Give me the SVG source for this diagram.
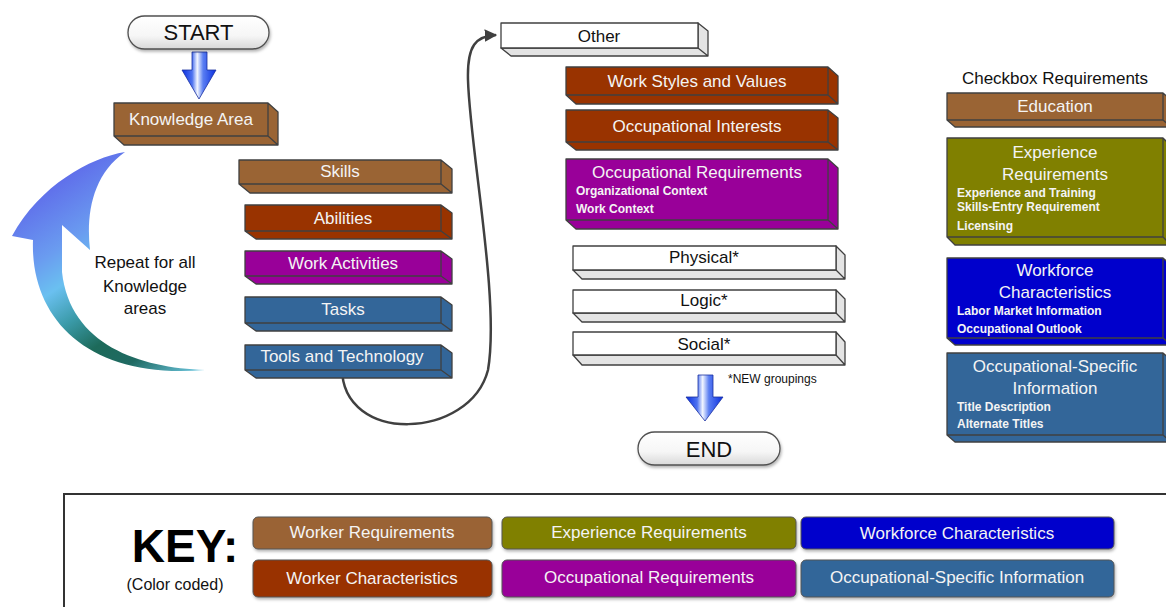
<svg xmlns="http://www.w3.org/2000/svg" width="1166" height="607" viewBox="0 0 1166 607">
<style>
text{font-family:"Liberation Sans",Arial,sans-serif;}
.bx{stroke:#404040;stroke-width:1.3;stroke-linejoin:round;}
.br{fill:#9a6434;}
.ru{fill:#993300;}
.pu{fill:#990099;}
.st{fill:#336699;}
.ol{fill:#808000;}
.bl{fill:#0000cc;}
.wh{fill:#ffffff;}
.whs{fill:#e4e4e4;}
.t{font-size:17px;fill:#f4f4f4;text-anchor:middle;}
.tk{font-size:17px;fill:#111;text-anchor:middle;}
.sub{font-size:12px;font-weight:bold;fill:#f4f4f4;}
.key{stroke:#555;stroke-width:1;}
.kt{font-size:17px;fill:#f4f4f4;text-anchor:middle;}
.conn{fill:none;stroke:#404040;stroke-width:2.5;}
</style>
<defs>
<marker id="ah" viewBox="0 0 10 10" refX="9" refY="5" markerWidth="5" markerHeight="5" orient="auto" markerUnits="strokeWidth">
<path d="M0 0L10 5L0 10z" fill="#404040"/>
</marker>
<linearGradient id="pill" x1="0" y1="0" x2="0" y2="1">
<stop offset="0" stop-color="#ffffff"/>
<stop offset="0.6" stop-color="#f6f6f6"/>
<stop offset="1" stop-color="#d8d8d8"/>
</linearGradient>
<linearGradient id="barrow" x1="0" y1="0" x2="1" y2="0">
<stop offset="0" stop-color="#0a2ee0"/>
<stop offset="0.3" stop-color="#4d72f0"/>
<stop offset="0.45" stop-color="#f2f6ff"/>
<stop offset="0.62" stop-color="#5a7ef2"/>
<stop offset="1" stop-color="#0a2ee0"/>
</linearGradient>
<linearGradient id="crescent" gradientUnits="userSpaceOnUse" x1="60" y1="150" x2="210" y2="375">
<stop offset="0" stop-color="#5b5be8"/>
<stop offset="0.3" stop-color="#6a9cf0"/>
<stop offset="0.42" stop-color="#6ac0f0"/>
<stop offset="0.55" stop-color="#3a9aa8"/>
<stop offset="0.68" stop-color="#1d6a5a"/>
<stop offset="0.8" stop-color="#1f6a62"/>
<stop offset="1" stop-color="#7ad8f8"/>
</linearGradient>
<filter id="sh" x="-10%" y="-20%" width="120%" height="150%">
<feDropShadow dx="1" dy="2" stdDeviation="1.5" flood-color="#000" flood-opacity="0.3"/>
</filter>
</defs>

<!-- connectors -->
<g id="connectors">
<path class="conn" d="M342 368 C342 445 470 440 488 370 C500 300 470 150 468 80 C467 45 476 36 496 35" marker-end="url(#ah)"/>
<path id="arrow-start" d="M192 52H207V70H216L199 99L182 70H192Z" fill="url(#barrow)" stroke="#1a30a0" stroke-width="0.8"/>
<path id="arrow-end" d="M698 375H713V397H723L705 421L686 397H698Z" fill="url(#barrow)" stroke="#1a30a0" stroke-width="0.8"/>
<path id="repeat-arrow" d="M125 152 C90 158 40 185 12 236 L33 240 C30 320 90 380 205 370 C140 368 70 345 62 272 L62 225 L90 250 C86 215 92 175 125 152 Z" fill="url(#crescent)"/>
</g>

<g id="n-start">
<rect x="128" y="16" width="141" height="33" rx="16.5" fill="url(#pill)" stroke="#505050" stroke-width="1.3" filter="url(#sh)"/>
<text x="198.5" y="40" style="font-size:22px;fill:#111;text-anchor:middle">START</text>
</g>

<g id="n-knowledge">
<path class="bx br" d="M114 103h154v33H114z M114 136l10 9h154l-10-9z M268 103l10 9v33l-10-9z"/>
<text class="t" x="191" y="125">Knowledge Area</text>
</g>

<g id="n-repeat">
<text class="tk" x="145" y="268">Repeat for all</text>
<text class="tk" x="145" y="292">Knowledge</text>
<text class="tk" x="145" y="314">areas</text>
</g>

<g id="n-skills">
<path class="bx br" d="M239 160h202v24H239z M239 184l11 9h202l-11-9z M441 160l11 9v24l-11-9z"/>
<text class="t" x="340" y="177">Skills</text>
</g>
<g id="n-abilities">
<path class="bx ru" d="M245 205h196v26H245z M245 231l11 8h196l-11-8z M441 205l11 8v26l-11-8z"/>
<text class="t" x="343" y="224">Abilities</text>
</g>
<g id="n-workact">
<path class="bx pu" d="M245 251h196v25H245z M245 276l11 8h196l-11-8z M441 251l11 8v25l-11-8z"/>
<text class="t" x="343" y="269">Work Activities</text>
</g>
<g id="n-tasks">
<path class="bx st" d="M245 297h196v26H245z M245 323l11 8h196l-11-8z M441 297l11 8v26l-11-8z"/>
<text class="t" x="343" y="315">Tasks</text>
</g>
<g id="n-tools">
<path class="bx st" d="M245 345h196v25H245z M245 370l11 8h196l-11-8z M441 345l11 8v25l-11-8z"/>
<text class="t" x="342" y="362">Tools and Technology</text>
</g>

<g id="n-other">
<path class="bx whs" d="M501 48l10 8h197l-10-8z M698 23l10 8v25l-10-8z"/>
<rect class="bx wh" x="501" y="23" width="197" height="25"/>
<text class="tk" x="599" y="42">Other</text>
</g>
<g id="n-workstyles">
<path class="bx ru" d="M566 67h262v28H566z M566 95l10 9h262l-10-9z M828 67l10 9v28l-10-9z"/>
<text class="t" x="697" y="87">Work Styles and Values</text>
</g>
<g id="n-occint">
<path class="bx ru" d="M566 110h262v32H566z M566 142l10 8h262l-10-8z M828 110l10 8v32l-10-8z"/>
<text class="t" x="697" y="132">Occupational Interests</text>
</g>
<g id="n-occreq">
<path class="bx pu" d="M566 159h262v61H566z M566 220l10 9h262l-10-9z M828 159l10 9v61l-10-9z"/>
<text class="t" x="697" y="178">Occupational Requirements</text>
<text class="sub" x="576" y="195">Organizational Context</text>
<text class="sub" x="576" y="213">Work Context</text>
</g>
<g id="n-physical">
<path class="bx whs" d="M573 270l9 9h263l-9-9z M836 246l9 9v24l-9-9z"/>
<rect class="bx wh" x="573" y="246" width="263" height="24"/>
<text class="tk" x="704" y="263">Physical*</text>
</g>
<g id="n-logic">
<path class="bx whs" d="M573 313l9 9h263l-9-9z M836 290l9 9v23l-9-9z"/>
<rect class="bx wh" x="573" y="290" width="263" height="23"/>
<text class="tk" x="704" y="306">Logic*</text>
</g>
<g id="n-social">
<path class="bx whs" d="M573 355l9 10h263l-9-10z M836 332l9 10v23l-9-10z"/>
<rect class="bx wh" x="573" y="332" width="263" height="23"/>
<text class="tk" x="704" y="350">Social*</text>
</g>
<g id="n-newnote">
<text x="728" y="383" style="font-size:12px;fill:#111">*NEW groupings</text>
</g>

<g id="n-end">
<rect x="638" y="432" width="142" height="33" rx="16.5" fill="url(#pill)" stroke="#505050" stroke-width="1.3" filter="url(#sh)"/>
<text x="709" y="457" style="font-size:22px;fill:#111;text-anchor:middle">END</text>
</g>

<g id="n-checkbox">
<text class="tk" x="1055" y="84">Checkbox Requirements</text>
</g>
<g id="n-education">
<path class="bx br" d="M947 93h216v27H947z M947 120l8 7h216l-8-7z M1163 93l8 7v27l-8-7z"/>
<text class="t" x="1055" y="112">Education</text>
</g>
<g id="n-experience">
<path class="bx ol" d="M947 138h216v99H947z M947 237l8 8h216l-8-8z M1163 138l8 8v99l-8-8z"/>
<text class="t" x="1055" y="158">Experience</text>
<text class="t" x="1055" y="180">Requirements</text>
<text class="sub" x="957" y="197">Experience and Training</text>
<text class="sub" x="957" y="211">Skills-Entry Requirement</text>
<text class="sub" x="957" y="230">Licensing</text>
</g>
<g id="n-workforce">
<path class="bx bl" d="M947 258h216v80H947z M947 338l8 7h216l-8-7z M1163 258l8 7v80l-8-7z"/>
<text class="t" x="1055" y="276">Workforce</text>
<text class="t" x="1055" y="298">Characteristics</text>
<text class="sub" x="957" y="315">Labor Market Information</text>
<text class="sub" x="957" y="333">Occupational Outlook</text>
</g>
<g id="n-occspec">
<path class="bx st" d="M947 353h216v82H947z M947 435l8 7h216l-8-7z M1163 353l8 7v82l-8-7z"/>
<text class="t" x="1055" y="372">Occupational-Specific</text>
<text class="t" x="1055" y="394">Information</text>
<text class="sub" x="957" y="411">Title Description</text>
<text class="sub" x="957" y="428">Alternate Titles</text>
</g>

<g id="n-key">
<rect x="64" y="494" width="1130" height="140" fill="#fff" stroke="#333" stroke-width="2"/>
<text x="185" y="562" style="font-size:46px;font-weight:bold;fill:#000;text-anchor:middle">KEY:</text>
<text x="175" y="590" style="font-size:16px;fill:#111;text-anchor:middle">(Color coded)</text>
<g filter="url(#sh)">
<rect class="key br" x="253" y="517" width="239" height="32" rx="5"/>
<rect class="key ru" x="253" y="560" width="239" height="37" rx="5"/>
<rect class="key ol" x="502" y="517" width="294" height="32" rx="5"/>
<rect class="key pu" x="502" y="560" width="294" height="37" rx="5"/>
<rect class="key bl" x="801" y="517" width="313" height="32" rx="5"/>
<rect class="key st" x="801" y="560" width="313" height="37" rx="5"/>
</g>
<text class="kt" x="372" y="538">Worker Requirements</text>
<text class="kt" x="372" y="584">Worker Characteristics</text>
<text class="kt" x="649" y="538">Experience Requirements</text>
<text class="kt" x="649" y="583">Occupational Requirements</text>
<text class="kt" x="957" y="539">Workforce Characteristics</text>
<text class="kt" x="957" y="583">Occupational-Specific Information</text>
</g>
</svg>
